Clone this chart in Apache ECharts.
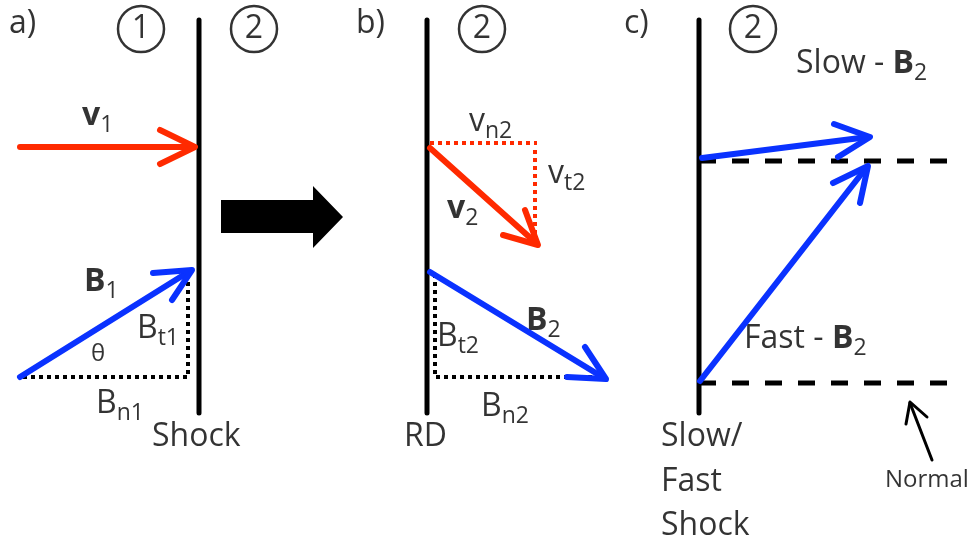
<!DOCTYPE html>
<html><head><meta charset="utf-8">
<script src="https://cdn.jsdelivr.net/npm/echarts@6/dist/echarts.min.js"></script>
<style>html,body{margin:0;padding:0;background:#fff}#c{width:977px;height:548px}</style>
</head><body><div id="c"></div>
<script>
// ---- diagram data (pixel-space coordinates of a 977x548 canvas, y downward) ----
const shockLines = [[[199,20],[199,413]], [[427,20],[427,413]], [[699,20],[699,413]]];
const redArrows = [
  [[20,147],[194,147]], [[160,130],[195,147],[160,164]],           // v1
  [[430,148],[536,243]], [[503,235],[538,245],[525,210]]           // v2
];
const blueArrows = [
  [[20,377],[190,271]], [[153,273],[192,270],[172,300]],           // B1
  [[430,272],[604,378]], [[567,377],[606,379],[585,347]],          // B2
  [[702,158],[868,137]], [[834,124],[870,137],[838,157]],          // slow B2
  [[700,381],[866,168]], [[833,183],[868,166],[860,203]]           // fast B2
];
const normalArrow = [[[932,460],[910,403]], [[906,424],[910,402],[927,417]]];
const blackDotted = [[[188,274],[188,377],[20,377]], [[435,274],[435,377],[600,377]]];
const redDotted = [[[430,143],[537,143]], [[535,150],[535,245]]];
const dashedNormals = [[[699,161],[955,161]], [[699,383],[955,383]]];
const bigArrow = [[221,200],[313,200],[313,186],[343,217],[313,248],[313,233],[221,233]];
const circledNumbers = [[141,29,'1'],[254,29,'2'],[482,29,'2'],[753,29,'2']];
const labels = [
  [9,24,'{r|a)}'], [356,24,'{r|b)}'], [624,24,'{r|c)}'],
  [82,116,'{b|v}{s|1}'], [84,282,'{b|B}{s|1}'], [137,329,'{r|B}{s|t1}'],
  [91,354,'{t|θ}'], [96,404,'{r|B}{s|n1}'], [152,437,'{r|Shock}'],
  [469,122,'{r|v}{s|n2}'], [548,174,'{r|v}{s|t2}'], [447,209,'{b|v}{s|2}'],
  [526,321,'{b|B}{s|2}'], [437,337,'{r|B}{s|t2}'], [481,407,'{r|B}{s|n2}'],
  [404,437,'{r|RD}'],
  [796,64,'{r|Slow - }{b|B}{s|2}'], [744,339,'{r|Fast - }{b|B}{s|2}'],
  [661,437,'{r|Slow/}'], [661,482,'{r|Fast}'], [661,526,'{r|Shock}'],
  [885,480,'{n|Normal}']
];

const FONT = 'Open Sans';
function lineSeries(list, color, width, type) {
  return list.map(pts => ({
    type: 'line', data: pts, symbol: 'none', silent: true, animation: false,
    lineStyle: { color: color, width: width, type: type || 'solid', cap: type ? 'butt' : 'round', join: 'round' },
    z: 3
  }));
}
const rich = {
  r: { fontFamily: FONT, fontSize: 32, color: '#000', lineHeight: 42, verticalAlign: 'middle' },
  b: { fontFamily: FONT, fontSize: 32, fontWeight: 'bold', color: '#000', lineHeight: 42, verticalAlign: 'middle' },
  s: { fontFamily: FONT, fontSize: 23, color: '#000', lineHeight: 27, verticalAlign: 'bottom' },
  t: { fontFamily: FONT, fontSize: 24, color: '#000', lineHeight: 40 },
  n: { fontFamily: FONT, fontSize: 24, color: '#000', lineHeight: 30 }
};
const series = [].concat(
  lineSeries(shockLines, '#000', 5),
  lineSeries(blackDotted, '#000', 4, [4,4]),
  lineSeries(redDotted, '#ff2a00', 4, [4,4]),
  lineSeries(dashedNormals, '#000', 5, [17,16]),
  lineSeries(redArrows, '#ff2a00', 6),
  lineSeries(blueArrows, '#0a32ff', 6),
  lineSeries(normalArrow, '#000', 3),
  [{
    type: 'custom', data: [bigArrow[0]], silent: true, animation: false,
    renderItem: function (params, api) {
      return { type: 'polygon', shape: { points: bigArrow.map(p => api.coord(p)) }, style: { fill: '#000' } };
    }
  }, {
    type: 'scatter', data: circledNumbers.map(c => [c[0], c[1], c[2]]), symbol: 'circle', symbolSize: 46,
    silent: true, animation: false,
    itemStyle: { color: 'rgba(0,0,0,0)', borderColor: '#000', borderWidth: 2.5 },
    label: { show: true, position: 'inside', formatter: p => p.data[2], fontFamily: FONT, fontSize: 32, color: '#000' }
  }, {
    type: 'scatter', data: labels.map(l => [l[0], l[1], l[2]]), symbolSize: 0, silent: true, animation: false,
    itemStyle: { color: 'rgba(0,0,0,0)' },
    label: { show: true, position: [0, 0], align: 'left', verticalAlign: 'middle', color: '#000',
      formatter: p => p.data[2], rich: rich }
  }]
);
const chart = echarts.init(document.getElementById('c'));
chart.setOption({
  backgroundColor: '#fff',
  animation: false,
  grid: { left: 0, right: 0, top: 0, bottom: 0 },
  xAxis: { type: 'value', min: 0, max: 977, show: false },
  yAxis: { type: 'value', min: 0, max: 548, inverse: true, show: false },
  series: series
});
</script></body></html>
